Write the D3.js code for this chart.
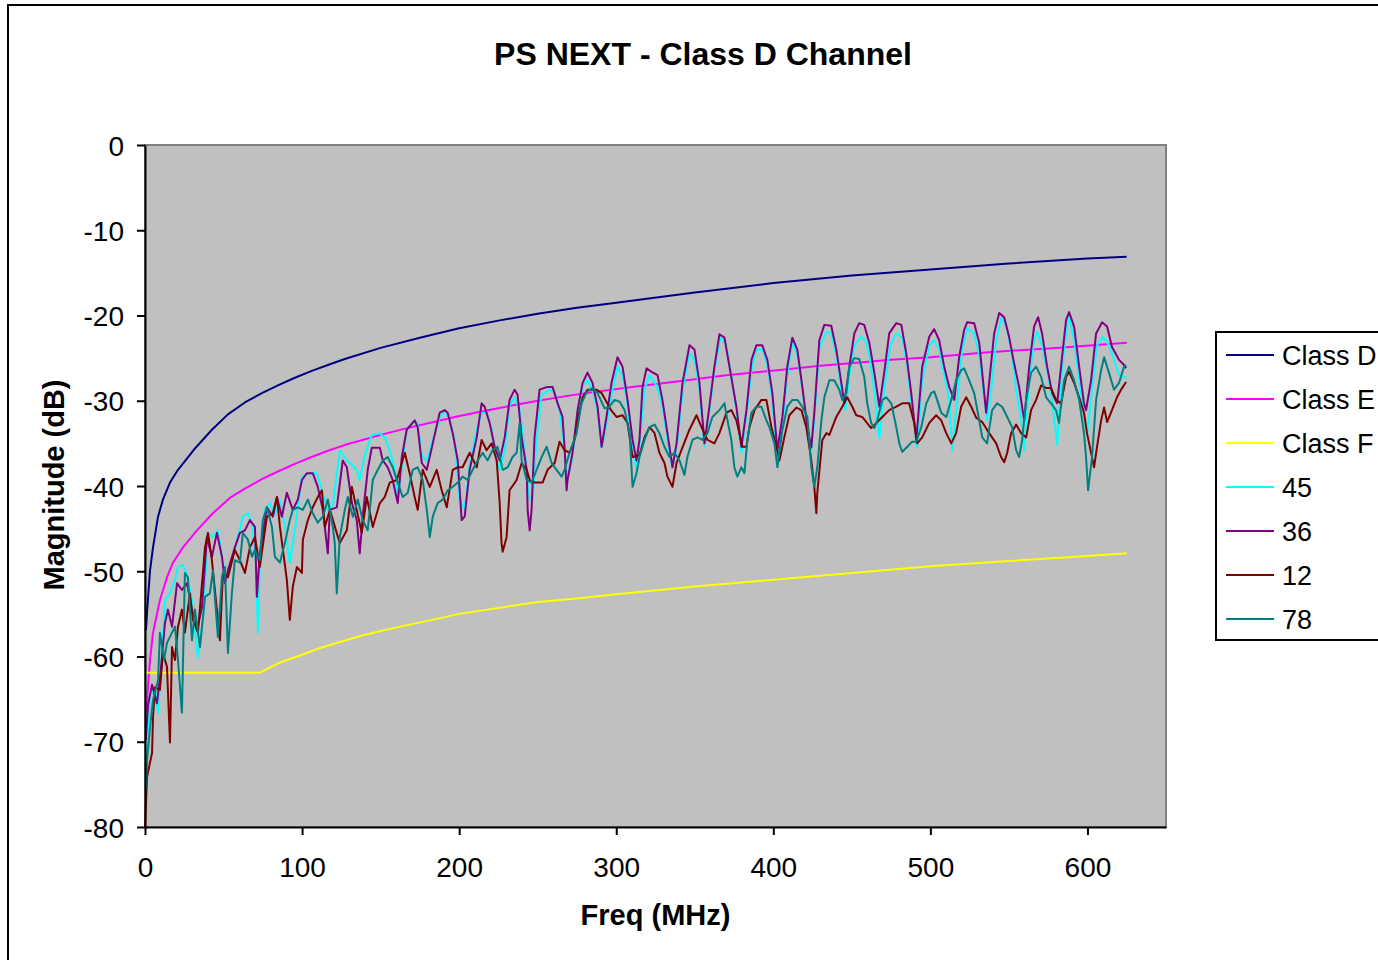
<!DOCTYPE html>
<html>
<head>
<meta charset="utf-8">
<script src="https://cdn.jsdelivr.net/npm/d3@7"></script>
<style>
  body { margin: 0; background: #fff; }
  svg text { font-family: "Liberation Sans", Arial, sans-serif; fill: #000; }
</style>
</head>
<body>
<svg id="chart" width="1378" height="960"></svg>
<script>
// series names / colours, in the order they are drawn and listed
var seriesNames  = ["Class D", "Class E", "Class F", "45", "36", "12", "78"];
var seriesColors = ["#000080", "#ff00ff", "#ffff00", "#00ffff", "#800080", "#800000", "#008080"];

var xTicks = [0, 100, 200, 300, 400, 500, 600];
var yTicks = [0, -10, -20, -30, -40, -50, -60, -70, -80];

// limit lines, [MHz, dB]
var classD = [[0.6,-56.9],[1.3,-54.8],[3.2,-49.9],[5.1,-47.2],[8.3,-43.6],[11.4,-41.6],[15.9,-39.6],[21,-38.1],[26.7,-36.8],[31.8,-35.6],[42.6,-33.4],[52.8,-31.6],[63.6,-30.2],[74.4,-29.1],[84.6,-28.2],[95.4,-27.3],[106.2,-26.5],[116.4,-25.8],[127.2,-25.1],[150,-23.8],[175,-22.6],[200,-21.5],[225,-20.6],[250,-19.8],[275,-19.1],[300,-18.5],[350,-17.3],[400,-16.2],[450,-15.3],[500,-14.6],[550,-13.9],[600,-13.3],[625,-13.1]];
var classE = [[0.6,-66.6],[3.2,-60.4],[5.1,-57.2],[9.5,-53.4],[14,-50.7],[17.8,-49.0],[24.2,-47.2],[33.1,-45.2],[43.2,-43.2],[54,-41.4],[63.6,-40.3],[74.4,-39.2],[84.6,-38.3],[95.4,-37.4],[106,-36.6],[116,-35.9],[127,-35.2],[150,-34.0],[165,-33.3],[181,-32.6],[200,-31.8],[224,-30.9],[250,-30.0],[270,-29.4],[289,-28.9],[310,-28.4],[340,-27.7],[370,-27.0],[404,-26.4],[430,-25.9],[455,-25.5],[475,-25.2],[500,-24.9],[537,-24.3],[580,-23.8],[625,-23.2]];
var classF = [[0.6,-61.9],[73,-61.9],[86,-60.7],[100,-59.8],[110,-59.1],[124,-58.3],[137,-57.6],[150,-57.0],[170,-56.2],[188,-55.5],[200,-55.0],[225,-54.3],[250,-53.6],[275,-53.2],[300,-52.7],[350,-51.8],[400,-51.0],[450,-50.2],[500,-49.4],[550,-48.8],[600,-48.2],[625,-47.9]];

// measured pairs, [MHz, dB]
var s45 = [[0.6,-76.2],[1.9,-68.6],[3.2,-64.5],[6.4,-63.9],[8.3,-66.6],[10.8,-59.8],[12.7,-53.4],[15.9,-52.6],[19.1,-51.0],[21,-49.5],[24.2,-49.3],[26.7,-50.4],[29.9,-53.4],[33.7,-60.1],[36.9,-55.7],[40.1,-45.5],[43.2,-46.0],[46.4,-45.2],[49,-48.1],[51.5,-51.0],[54.1,-49.3],[57.9,-46.9],[62.3,-43.6],[65.5,-43.2],[68.1,-44.3],[70.6,-48.7],[71.9,-57.2],[73.1,-48.7],[76.3,-42.8],[79.5,-42.0],[82.7,-43.4],[85.9,-41.6],[89,-44.6],[92.2,-49.0],[95.4,-45.2],[99.9,-38.9],[103,-38.7],[106.2,-38.5],[109.4,-38.5],[112.6,-40.5],[116.4,-42.8],[119.6,-42.2],[124,-35.8],[128.5,-37.0],[130.4,-37.3],[134.8,-38.1],[136.7,-39.3],[139.9,-36.4],[144.4,-34.0],[149.5,-33.8],[152.6,-34.3],[155.8,-35.8],[159,-38.1],[160.9,-41.3],[164.1,-37.0],[166.6,-33.4],[171.7,-32.3],[173.6,-32.8],[176.2,-36.4],[179.4,-37.0],[183.2,-34.6],[187.6,-32.0],[190.8,-31.1],[194,-32.3],[197.2,-34.6],[200.3,-41.6],[203.5,-42.8],[206.7,-37.5],[211.2,-33.4],[214.3,-31.4],[217.5,-31.4],[220.7,-33.4],[223.9,-37.0],[225.8,-38.1],[229,-35.8],[232.1,-30.5],[235.3,-29.6],[238.5,-31.1],[241.7,-35.8],[244.9,-41.6],[246.8,-41.6],[249.3,-34.6],[252.5,-29.3],[257.6,-28.7],[260.8,-29.0],[263.9,-31.1],[267.1,-35.8],[269,-39.3],[271.6,-37.0],[275.4,-31.7],[278.6,-28.2],[281.7,-27.6],[284.9,-28.7],[288.1,-31.1],[290.7,-35.5],[293.8,-32.8],[297,-29.3],[300.8,-26.0],[304,-27.0],[307.2,-30.5],[310.4,-35.8],[312.9,-37.8],[314.8,-35.2],[318,-28.7],[321.2,-27.0],[325.6,-28.2],[329.4,-30.5],[332.6,-34.6],[335.8,-37.8],[339,-34.6],[342.8,-28.2],[346.6,-24.4],[349.8,-25.2],[353,-28.7],[356.2,-35.4],[359.3,-31.1],[362.5,-26.4],[366.3,-22.6],[369.5,-23.2],[372.7,-26.4],[376.5,-31.1],[379.7,-36.1],[382.9,-31.7],[386.1,-26.4],[389.2,-24.0],[393,-24.0],[396.2,-25.8],[399.4,-29.9],[402.6,-37.3],[405.8,-32.8],[408.9,-27.0],[412.1,-23.2],[415.3,-24.6],[418.5,-28.7],[421.7,-33.4],[424.2,-35.8],[426.1,-32.3],[429.3,-23.8],[433.8,-21.9],[436.9,-22.1],[440.1,-24.6],[443.3,-28.7],[445.8,-31.1],[448.4,-27.0],[451.6,-23.5],[456,-22.5],[458.6,-22.9],[461.7,-25.2],[464.9,-29.9],[467.5,-34.4],[470.6,-28.7],[474.5,-23.5],[478.3,-22.1],[482.1,-22.6],[485.3,-25.8],[488.4,-31.1],[491.6,-35.5],[494.8,-27.6],[499.3,-23.5],[502.4,-22.9],[505.6,-24.0],[508.8,-27.0],[512,-29.9],[513.9,-35.8],[517.1,-29.9],[520.2,-24.0],[523.4,-21.5],[527.9,-22.1],[531.1,-24.6],[533.6,-28.7],[536.1,-32.3],[538.7,-28.7],[541.9,-22.9],[545.1,-20.3],[548.2,-21.1],[551.4,-24.0],[554.6,-28.7],[557.8,-32.3],[559.7,-35.8],[562.9,-27.6],[566,-22.9],[568,-21.9],[571.1,-23.5],[574.3,-26.4],[577.5,-29.9],[580.7,-35.2],[583.8,-26.4],[587,-21.1],[588.3,-20.2],[591.5,-22.9],[594.7,-27.6],[597.8,-31.7],[599.7,-34.0],[602.9,-28.7],[606.1,-23.5],[609.9,-22.5],[613.7,-23.5],[616.9,-25.2],[620.1,-27.0],[623.3,-27.2],[624.6,-27.3]];

var s36 = [[0.5,-69.8],[1.9,-65.7],[4.5,-63.3],[7.6,-65.5],[10.2,-61.3],[12.7,-56.1],[14.6,-54.5],[17.2,-56.5],[20.4,-51.4],[23.5,-52.2],[26.7,-51.4],[29.9,-54.5],[33.1,-56.9],[36.3,-54.2],[39.4,-46.0],[42.6,-48.3],[45.8,-45.5],[49,-48.3],[50.9,-51.4],[52.8,-49.9],[57.2,-47.2],[60.4,-45.5],[63.6,-45.2],[66.8,-44.0],[70,-44.8],[71.2,-53.0],[73.1,-47.9],[77.6,-42.5],[81.4,-43.6],[84,-41.3],[87.1,-43.6],[90.3,-40.8],[94.1,-42.8],[97.3,-41.6],[99.9,-39.3],[103,-38.5],[106.8,-38.5],[110,-40.1],[113.2,-42.8],[116.4,-47.9],[117.7,-42.8],[122.1,-42.5],[125.9,-37.0],[128.5,-37.8],[131.7,-42.0],[134.8,-44.0],[136.7,-47.9],[138.6,-43.6],[141.8,-38.1],[144.4,-35.5],[149.5,-35.5],[151.4,-37.0],[154.5,-37.8],[157.7,-39.3],[160.9,-42.0],[163.5,-36.6],[166.6,-33.4],[171.7,-32.3],[173.6,-33.1],[176.2,-37.3],[179.4,-38.1],[183.2,-35.0],[187.6,-31.4],[190.8,-31.1],[192.7,-31.4],[195.9,-33.8],[199.1,-37.0],[201.6,-44.0],[203.5,-43.6],[206.7,-38.1],[211.2,-34.3],[214.3,-30.3],[216.2,-30.7],[219.4,-32.6],[222.6,-35.4],[225.8,-37.0],[229,-34.3],[232.1,-29.9],[235.3,-28.7],[237.2,-29.3],[239.8,-34.3],[243,-38.1],[243.6,-42.8],[244.9,-45.2],[246.1,-42.8],[248,-34.3],[251.2,-28.7],[255.7,-28.4],[259.5,-28.4],[262.7,-30.3],[265.8,-31.9],[267.1,-35.4],[268.4,-40.5],[269,-39.3],[272.2,-36.1],[275.4,-31.1],[278.6,-27.9],[281.7,-26.7],[284.9,-27.9],[288.1,-30.7],[290.7,-35.4],[293.8,-31.9],[297,-27.9],[300.8,-24.9],[304,-26.0],[307.2,-29.9],[310.4,-34.6],[312.9,-37.0],[314.8,-34.6],[316.7,-28.4],[319.3,-26.2],[322.5,-26.6],[326.3,-27.0],[329.4,-29.9],[332.6,-33.8],[335.8,-37.8],[338.4,-35.0],[342.2,-27.9],[346.6,-23.5],[349.8,-24.0],[353,-27.9],[356.2,-35.0],[359.3,-30.7],[362.5,-26.0],[365.7,-22.2],[368.9,-22.6],[372.1,-26.0],[376.5,-30.7],[379.7,-35.4],[382.9,-31.1],[386.1,-25.2],[389.2,-23.5],[393,-23.5],[396.2,-25.2],[399.4,-29.1],[402.6,-35.8],[405.8,-31.9],[408.9,-26.0],[412.1,-22.6],[415.3,-24.0],[418.5,-28.4],[421.7,-33.1],[424.2,-35.5],[426.1,-31.4],[429.3,-22.9],[432.5,-21.1],[436.9,-21.2],[440.1,-24.0],[443.3,-27.9],[445.2,-30.3],[448.4,-26.0],[451.6,-22.1],[454.7,-20.9],[457.9,-21.1],[461.1,-23.2],[464.3,-26.7],[467.5,-30.7],[470.6,-26.7],[473.8,-22.1],[478.3,-20.9],[481.5,-21.1],[484.6,-24.4],[487.8,-29.1],[491,-34.6],[494.8,-26.0],[499.3,-22.5],[502.4,-21.6],[505.6,-22.9],[508.8,-26.0],[512,-28.4],[515.2,-29.9],[518.3,-24.9],[521.5,-21.7],[523.4,-20.8],[527.9,-20.9],[531.1,-23.2],[533,-26.7],[535.5,-31.4],[537.4,-27.9],[540.6,-22.1],[543.8,-19.7],[547,-20.2],[550.1,-22.5],[553.3,-25.6],[556.5,-28.4],[559.7,-32.3],[562.9,-26.0],[566,-21.3],[568.6,-20.2],[571.1,-22.1],[574.3,-26.0],[577.5,-29.1],[580.7,-30.3],[583.8,-24.9],[586.4,-20.5],[588.3,-19.6],[591.5,-21.3],[594.7,-26.0],[597.8,-30.3],[599.1,-31.1],[602.3,-27.6],[605.5,-22.1],[609.3,-20.8],[612.5,-21.3],[615.6,-23.7],[620.1,-25.2],[623.3,-25.8],[624.6,-26.2]];

var s12 = [[0,-80],[1.3,-74.1],[4.5,-71.3],[5.1,-67.1],[6.4,-63.6],[9.5,-63.9],[11.4,-59.6],[14,-61.2],[15.9,-70.1],[17.2,-58.9],[19.1,-60.4],[21,-56.5],[23.5,-54.5],[25.4,-57.2],[28.6,-52.6],[30.5,-55.7],[33.7,-57.2],[38.2,-47.2],[40.1,-45.5],[42.6,-48.7],[47.7,-58.1],[49.6,-50.2],[52.8,-50.7],[57.2,-47.5],[60.4,-48.7],[63.6,-50.2],[66.8,-47.2],[70,-46.0],[73.1,-49.5],[77.6,-43.6],[81.4,-43.2],[84,-41.3],[85.9,-44.8],[90.3,-51.0],[92.2,-55.7],[94.1,-51.8],[96.7,-49.5],[99.9,-50.2],[100.5,-46.3],[103.7,-44.0],[106.8,-42.5],[110,-41.3],[112.6,-40.5],[114.5,-44.8],[117.7,-42.8],[124,-46.7],[128.5,-45.2],[131.7,-40.1],[134.8,-42.8],[138,-45.5],[141.2,-41.3],[145,-44.8],[149.5,-42.0],[152.6,-41.3],[155.8,-39.6],[160.3,-39.3],[165.4,-36.1],[168.5,-38.5],[171.7,-41.3],[173.6,-42.8],[176.8,-38.1],[181.3,-40.1],[185.7,-38.1],[188.9,-40.5],[192.1,-42.5],[195.9,-38.1],[199.1,-37.8],[202.2,-37.8],[206.7,-36.1],[211.2,-37.8],[214.3,-34.6],[217.5,-35.8],[220.7,-35.0],[223.9,-37.0],[225.8,-42.0],[227,-46.7],[227.7,-47.7],[230.2,-46.0],[232.1,-40.5],[236.6,-39.3],[239.8,-37.3],[243,-38.1],[244.9,-39.3],[248,-39.6],[253.1,-39.6],[256.3,-38.1],[260.8,-37.3],[263.9,-34.8],[267.1,-35.8],[270.3,-36.1],[273.5,-34.6],[275.4,-32.3],[278.6,-29.6],[281.7,-28.7],[287.5,-28.7],[290.7,-29.1],[296.7,-31.1],[300.2,-31.9],[304,-31.7],[307.2,-32.6],[310.4,-36.6],[314.8,-36.4],[318,-34.3],[321.2,-33.1],[324.4,-33.8],[327.5,-36.1],[330.7,-37.3],[332.6,-38.9],[335.8,-40.1],[338.4,-37.3],[341.5,-35.8],[346.6,-33.4],[351.1,-31.7],[354.3,-33.1],[358.1,-34.6],[362.5,-35.0],[365.7,-33.8],[370.2,-31.4],[373.3,-31.1],[376.5,-32.3],[380.3,-35.4],[382.9,-35.4],[384.8,-33.1],[388,-31.1],[392.4,-29.9],[395.6,-29.9],[398.8,-33.1],[402,-35.4],[403.9,-37.0],[407,-34.3],[410.2,-31.7],[414.7,-30.8],[417.9,-31.1],[421,-33.1],[424.2,-37.0],[426.1,-40.1],[427.4,-43.2],[428,-40.8],[431.2,-34.6],[433.8,-33.8],[435.7,-34.0],[440.1,-31.9],[443.9,-30.7],[447.1,-29.6],[450.3,-30.7],[452.8,-31.7],[456.6,-31.9],[462.3,-33.2],[465.6,-32.6],[469.4,-31.9],[473.8,-31.1],[478.3,-30.7],[482.1,-30.3],[486.5,-30.3],[489.7,-32.6],[491.6,-35.0],[494.8,-34.3],[499.3,-32.6],[503.7,-31.7],[506.9,-32.3],[510.1,-33.8],[513.3,-35.0],[516.4,-33.8],[519.6,-30.7],[522.8,-29.6],[526,-30.7],[529.2,-32.0],[533,-32.5],[537.4,-33.8],[541.9,-35.0],[545,-36.6],[547,-37.2],[548.9,-36.1],[551.4,-33.8],[554.6,-32.8],[557.8,-33.8],[561,-34.3],[564.1,-31.1],[567.3,-29.9],[570.5,-28.2],[573.7,-28.5],[576.8,-28.5],[580,-29.9],[583.2,-30.3],[586.4,-27.2],[588.3,-26.6],[591.5,-27.9],[594.7,-29.6],[597.8,-31.4],[599.7,-33.8],[602.3,-36.1],[604.2,-37.8],[606.1,-35.4],[608.7,-32.3],[610.6,-30.8],[612.5,-32.5],[615.6,-31.1],[618.8,-29.6],[621.4,-28.7],[624.6,-27.8]];

var s78 = [[0.5,-75.7],[1.3,-72.1],[3.2,-68.3],[5.1,-65.1],[8.3,-62.8],[9.5,-57.2],[12.1,-60.4],[14,-58.4],[17.2,-57.2],[19.1,-56.5],[21,-60.4],[23.5,-66.6],[25.4,-50.2],[27.3,-50.7],[29.9,-58.1],[31.8,-54.5],[35,-58.9],[38.2,-53.0],[41.3,-52.6],[43.2,-49.9],[46.4,-57.7],[49,-50.7],[50.9,-49.5],[52.8,-59.6],[55.3,-52.6],[57.2,-48.7],[60.4,-49.0],[62.3,-45.5],[65.5,-46.3],[68.1,-48.3],[70,-47.5],[73.1,-48.7],[75,-44.0],[77.6,-42.5],[80.8,-44.8],[82.7,-48.3],[85.9,-49.0],[89,-46.7],[92.2,-44.0],[94.1,-42.8],[97.3,-42.5],[100.5,-42.8],[103.7,-41.6],[106.8,-43.2],[110,-44.3],[113.2,-43.6],[116.4,-41.6],[119.6,-44.8],[120.8,-46.7],[122.1,-52.6],[124,-46.0],[127.2,-42.8],[129.1,-41.3],[132.3,-43.6],[135.5,-41.6],[138.6,-44.0],[141.8,-45.2],[145,-39.3],[148.2,-38.1],[151.4,-37.0],[154.5,-36.6],[157.7,-37.8],[160.9,-39.6],[164.1,-41.3],[167.3,-40.8],[170.4,-38.1],[173.6,-37.8],[176.8,-39.3],[179.4,-42.8],[181.3,-46.0],[183.2,-43.6],[186.3,-42.0],[189.5,-41.6],[192.7,-40.5],[195.9,-40.1],[199.1,-39.6],[202.2,-38.9],[205.4,-39.3],[208.6,-38.1],[211.8,-37.0],[215,-36.1],[218.1,-37.0],[221.3,-35.8],[224.5,-35.4],[227.7,-38.1],[230.9,-37.8],[234,-36.6],[236.6,-36.1],[238.5,-32.6],[239.8,-37.0],[243,-39.3],[246.1,-39.6],[249.3,-38.1],[252.5,-36.6],[255.7,-35.4],[258.9,-37.3],[262,-38.1],[265.2,-38.9],[267.1,-38.1],[270.3,-36.1],[274.8,-33.8],[277.9,-30.3],[281.1,-29.0],[284.9,-28.5],[288.1,-29.1],[292.6,-30.9],[295.7,-30.7],[298.9,-29.9],[302.1,-30.1],[305.3,-31.1],[308.5,-33.8],[310.4,-40.1],[312.9,-38.5],[314.8,-36.6],[318,-34.6],[321.2,-33.1],[324.4,-32.8],[327.5,-33.8],[330.7,-35.4],[333.9,-36.6],[337.1,-36.1],[340.3,-37.0],[343.4,-38.7],[345.3,-36.6],[348.5,-34.6],[351.7,-34.3],[354.9,-34.6],[358.1,-33.8],[361.2,-31.9],[365.7,-31.1],[368.9,-30.3],[370.8,-32.3],[373.3,-34.6],[375.2,-37.8],[377.1,-38.9],[379.7,-37.8],[381.6,-38.5],[383.5,-34.6],[386.1,-31.4],[389.2,-30.7],[392.4,-30.7],[395.6,-32.3],[397.5,-33.1],[400.7,-35.0],[402.6,-37.8],[405.8,-33.4],[408.9,-30.7],[412.1,-29.9],[415.3,-29.9],[418.5,-30.7],[421.7,-31.9],[424.2,-37.8],[426.1,-40.1],[428,-37.8],[430.6,-32.3],[432.5,-29.6],[435.7,-27.6],[438.8,-27.6],[442,-28.7],[443.9,-29.9],[446.5,-29.1],[448.4,-26.0],[451.6,-25.0],[454.7,-25.1],[457.9,-27.2],[459.8,-30.3],[462.3,-32.6],[464.3,-33.2],[466.2,-32.3],[469.4,-29.9],[471.9,-29.6],[475.1,-30.3],[478.3,-33.1],[480.2,-35.0],[482.1,-36.0],[485.3,-35.4],[488.4,-34.8],[491,-34.8],[494.2,-33.1],[497.4,-30.3],[500.5,-29.1],[502.4,-28.9],[504.3,-29.9],[506.9,-31.4],[510.1,-31.9],[513.3,-29.9],[516.4,-27.6],[519.6,-26.4],[521.5,-26.2],[524.7,-27.6],[527.9,-29.1],[531.1,-32.3],[533,-34.3],[536.1,-35.0],[539.3,-31.1],[542.5,-30.3],[545.7,-30.7],[548.9,-31.9],[552,-33.1],[554.6,-35.8],[556.5,-36.6],[558.4,-34.6],[561,-29.9],[564.1,-26.7],[567.3,-26.0],[570.5,-27.2],[573.7,-29.6],[576.8,-30.3],[580,-31.1],[581.9,-32.6],[585.1,-27.6],[588.3,-26.0],[591.5,-27.6],[594.7,-29.9],[597.8,-33.8],[599.1,-36.6],[600.4,-40.5],[602.9,-36.6],[605.5,-29.9],[608.7,-26.4],[610.6,-24.9],[613.7,-26.7],[616.9,-28.7],[620.1,-27.9],[623.3,-26.0],[624.6,-25.8]];

var seriesData = [classD, classE, classF, s45, s36, s12, s78];

var svg = d3.select("#chart");

// plot area edges
var plot = {left: 145, top: 145, right: 1166, bottom: 827};

var x = d3.scaleLinear().domain([0, 650]).range([plot.left, plot.right]);
var y = d3.scaleLinear().domain([-80, 0]).range([plot.bottom, plot.top]);

// chart border
svg.append("rect")
  .attr("x", 8).attr("y", 5)
  .attr("width", 1430).attr("height", 1000)
  .attr("fill", "#fff")
  .attr("stroke", "#000")
  .attr("stroke-width", 2);

// title
svg.append("text")
  .attr("x", 703).attr("y", 65)
  .attr("text-anchor", "middle")
  .style("font-size", "32px")
  .style("font-weight", "bold")
  .text("PS NEXT - Class D Channel");

// plot background
svg.append("rect")
  .attr("x", x(0)).attr("y", y(0))
  .attr("width", x(650) - x(0))
  .attr("height", y(-80) - y(0))
  .attr("fill", "#c0c0c0")
  .attr("stroke", "#808080")
  .attr("stroke-width", 2);

var line = d3.line()
  .x(function(d) { return x(d[0]); })
  .y(function(d) { return y(d[1]); });

svg.append("g").selectAll("path")
  .data(seriesData)
  .enter().append("path")
    .attr("d", line)
    .attr("fill", "none")
    .attr("stroke", function(d, i) { return seriesColors[i]; })
    .attr("stroke-width", 2)
    .attr("stroke-linejoin", "round");

// axes (plain hyphen for negatives, as in the original)
var fmt = function(d) { return String(d); };

var gx = svg.append("g")
  .attr("transform", "translate(0," + plot.bottom + ")")
  .call(d3.axisBottom(x).tickValues(xTicks).tickFormat(fmt).tickSize(8).tickSizeOuter(0));
gx.selectAll("text")
  .attr("y", 50).attr("dy", 0)
  .style("font-size", "28px");

var gy = svg.append("g")
  .attr("transform", "translate(" + plot.left + ",0)")
  .call(d3.axisLeft(y).tickValues(yTicks).tickFormat(fmt).tickSize(8).tickSizeOuter(0));
gy.selectAll("text")
  .attr("x", -21).attr("dy", 10)
  .style("font-size", "28px");

svg.selectAll(".domain, .tick line")
  .attr("stroke", "#000")
  .attr("stroke-width", 2);

// axis titles
svg.append("text")
  .attr("x", (plot.left + plot.right) / 2).attr("y", 925)
  .attr("text-anchor", "middle")
  .style("font-size", "29px")
  .style("font-weight", "bold")
  .text("Freq (MHz)");

svg.append("text")
  .attr("transform", "translate(64,485) rotate(-90)")
  .attr("text-anchor", "middle")
  .style("font-size", "29px")
  .style("font-weight", "bold")
  .text("Magnitude (dB)");

// legend
var legendBox = svg.append("g").attr("transform", "translate(1216,332)");
legendBox.append("rect")
  .attr("width", 220).attr("height", 308)
  .attr("fill", "#fff")
  .attr("stroke", "#000")
  .attr("stroke-width", 2);

var legend = legendBox.selectAll(".legend")
  .data(seriesNames)
  .enter().append("g")
    .attr("class", "legend")
    .attr("transform", function(d, i) { return "translate(0," + (23 + i * 44) + ")"; });

legend.append("line")
  .attr("x1", 10).attr("x2", 58)
  .attr("stroke", function(d, i) { return seriesColors[i]; })
  .attr("stroke-width", 2);

legend.append("text")
  .attr("x", 66).attr("dy", 10)
  .style("font-size", "27px")
  .text(function(d) { return d; });
</script>
</body>
</html>
